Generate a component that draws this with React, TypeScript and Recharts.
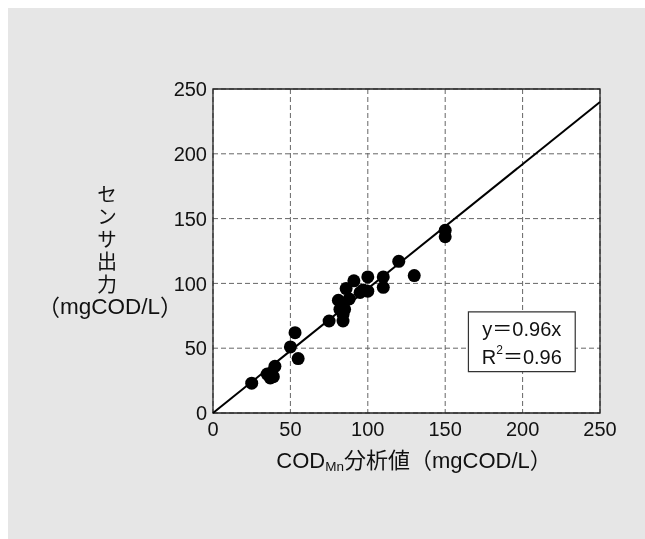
import React from "react";
import {
  ScatterChart,
  Scatter,
  XAxis,
  YAxis,
  CartesianGrid,
  ReferenceLine,
  ReferenceArea,
} from "recharts";

const codMn = [25, 35, 37, 39, 40, 50, 53, 55, 75, 84, 84, 81, 82, 85, 84, 86, 88, 91, 95, 97, 100, 100, 110, 110, 120, 130, 150, 150];
const sensor = [23, 30, 27, 28, 36, 51, 62, 42, 71, 71, 76, 87, 80, 80, 83, 96, 88, 102, 93, 95, 105, 94, 105, 97, 117, 106, 141, 136];
const axisTicks = [0, 50, 100, 150, 200, 250];
const slope = 0.96;
const r2 = 0.96;
const statsBox = { x1: 165, x2: 234, y1: 32, y2: 78 };

const points = codMn.map((x, i) => ({ x, y: sensor[i] }));

const FONT = "'Liberation Sans', Arial, 'Noto Sans CJK JP', sans-serif";
const JP = "'Noto Sans CJK JP', 'Liberation Sans', sans-serif";

const Dot = (props: any) => {
  const { cx, cy } = props;
  if (cx == null || cy == null) return null;
  return <circle cx={cx} cy={cy} r={6.5} fill="#000" />;
};

const YTitle = () => (
  <g>
    <text
      x={99}
      y={176}
      fontSize={20}
      fontFamily={JP}
      fill="#111"
      style={{ writingMode: "vertical-rl", letterSpacing: "2.5px" } as any}
    >
      センサ出力
    </text>
    <text x={102} y={298} textAnchor="middle" dominantBaseline="central" fontSize={22.5} fontFamily={FONT} fill="#111">
      <tspan fontFamily={JP}>（</tspan>
      mgCOD/L
      <tspan fontFamily={JP}>）</tspan>
    </text>
  </g>
);

const XTitle = () => (
  <text x={406} y={460} textAnchor="middle" fontSize={22} fontFamily={FONT} fill="#111">
    COD
    <tspan fontSize={13.5} dy={3}>Mn</tspan>
    <tspan dy={-3} fontFamily={JP}>分析値</tspan>
    <tspan fontFamily={JP}>（</tspan>
    <tspan>mgCOD/L</tspan>
    <tspan fontFamily={JP}>）</tspan>
  </text>
);

const StatsLabel = (props: any) => {
  const vb = props.viewBox || {};
  const cx = vb.x + vb.width / 2;
  const top = vb.y;
  return (
    <g>
      <text x={cx} y={top + 17} textAnchor="middle" dominantBaseline="central" fontSize={20} fontFamily={FONT} fill="#111">
        {`y＝${slope.toFixed(2)}x`}
      </text>
      <text x={cx} y={top + 45} textAnchor="middle" dominantBaseline="central" fontSize={20} fontFamily={FONT} fill="#111">
        R<tspan fontSize={12} dy={-7}>2</tspan>
        <tspan dy={7}>{`＝${r2.toFixed(2)}`}</tspan>
      </text>
    </g>
  );
};

export default function App() {
  return (
    <div style={{ width: 637, height: 531, position: "relative" }}>
      <style>{"html,body{overflow:hidden;}"}</style>
      <div
        style={{
          position: "fixed",
          left: 8,
          top: 8,
          right: 0,
          bottom: 0,
          background: "#e6e6e6",
        }}
      />
      <div style={{ position: "relative" }}>
        <ScatterChart
          width={637}
          height={531}
          margin={{ top: 81, right: 45, bottom: 66, left: 145 }}
        >
          <CartesianGrid
            stroke="#666"
            strokeDasharray="5 3"
            fill="#fff"
            fillOpacity={1}
          />
          <XAxis
            type="number"
            dataKey="x"
            domain={[0, 250]}
            ticks={axisTicks}
            height={60}
            tickSize={0}
            tickMargin={9}
            axisLine={false}
            tickLine={false}
            tick={{ fontSize: 20, fill: "#111", fontFamily: FONT }}
            allowDataOverflow
          />
          <YAxis
            type="number"
            dataKey="y"
            domain={[0, 250]}
            ticks={axisTicks}
            width={60}
            tickSize={0}
            tickMargin={6}
            axisLine={false}
            tickLine={false}
            tick={{ fontSize: 20, fill: "#111", fontFamily: FONT }}
            allowDataOverflow
          />
          <ReferenceArea
            x1={0}
            x2={250}
            y1={0}
            y2={250}
            fill="none"
            fillOpacity={0}
            stroke="#222"
            strokeWidth={1.3}
            isFront
          />
          <ReferenceArea
            x1={statsBox.x1}
            x2={statsBox.x2}
            y1={statsBox.y1}
            y2={statsBox.y2}
            fill="#fff"
            fillOpacity={1}
            stroke="#333"
            strokeWidth={1.2}
            label={<StatsLabel />}
          />
          <ReferenceLine
            segment={[
              { x: 0, y: 0 },
              { x: 250, y: 250 * slope },
            ]}
            stroke="#000"
            strokeWidth={2}
          />
          <Scatter data={points} shape={<Dot />} isAnimationActive={false} />
          <YTitle />
          <XTitle />
        </ScatterChart>
      </div>
    </div>
  );
}
